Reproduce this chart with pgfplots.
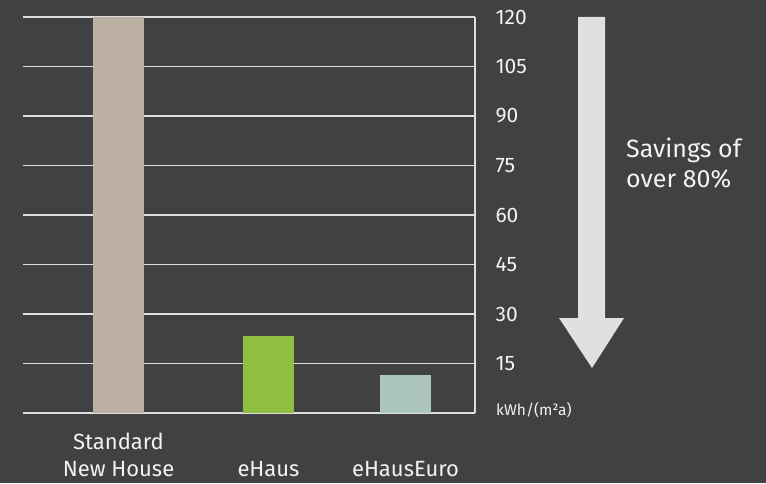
\documentclass[border=0pt]{standalone}
\usepackage{fontspec}
\setmainfont{Fira Sans}
\usepackage{pgfplots}
\pgfplotsset{compat=1.18}
\definecolor{bg}{RGB}{65,65,67}
\definecolor{gridc}{RGB}{222,222,224}
\definecolor{txt}{RGB}{242,242,242}
\definecolor{cstd}{RGB}{188,176,163}
\definecolor{cehaus}{RGB}{143,191,64}
\definecolor{ceuro}{RGB}{173,198,188}
\definecolor{arrowc}{RGB}{224,224,226}
\begin{document}
\begin{tikzpicture}
\fill[bg] (0,0) rectangle (766pt,483pt);
\useasboundingbox (0,0) rectangle (766pt,483pt);
% arrow (decoration)
\fill[arrowc] (578pt,466pt) -- (605pt,466pt) -- (605pt,165pt) -- (624pt,165pt) -- (592pt,115pt) -- (559pt,165pt) -- (578pt,165pt) -- cycle;
\node[anchor=base west, align=left, text=txt, font=\fontsize{25}{30}\selectfont, inner sep=0pt] at (626pt,296pt) {Savings of\\over 80\%};
\begin{axis}[
  at={(23pt,70pt)}, anchor=south west,
  scale only axis, width=452pt, height=396pt,
  xmin=23, xmax=475, ymin=0, ymax=120,
  axis x line*=bottom, axis y line*=right,
  axis line style={gridc, line width=1.6pt, -},
  ytick={15,30,...,120},
  ymajorgrids, grid style={gridc, line width=1.3pt},
  major tick length=0pt,
  xtick={118.5,268.5,405.5},
  xticklabels={\strut Standard\\\strut New House, \strut\\\strut eHaus, \strut\\\strut eHausEuro},
  xticklabel style={align=center, text=txt, font=\fontsize{22}{27}\selectfont, anchor=north, yshift=-14pt},
  yticklabel style={anchor=west, text=txt, font=\fontsize{21}{25}\selectfont, xshift=17pt},
  /pgf/number format/assume math mode=true,
  clip=false,
  ybar, bar shift=0pt, bar width=51,
]
\addplot[fill=cstd, draw=none] coordinates {(118.5,120)};
\addplot[fill=cehaus, draw=none] coordinates {(268.5,23.3)};
\addplot[fill=ceuro, draw=none] coordinates {(405.5,11.5)};
\node[anchor=west, text=txt, font=\fontsize{15.5}{18}\selectfont, inner sep=0pt] at (axis cs:475,1) [xshift=21pt] {kWh/(m²a)};
\end{axis}
\end{tikzpicture}
\end{document}
